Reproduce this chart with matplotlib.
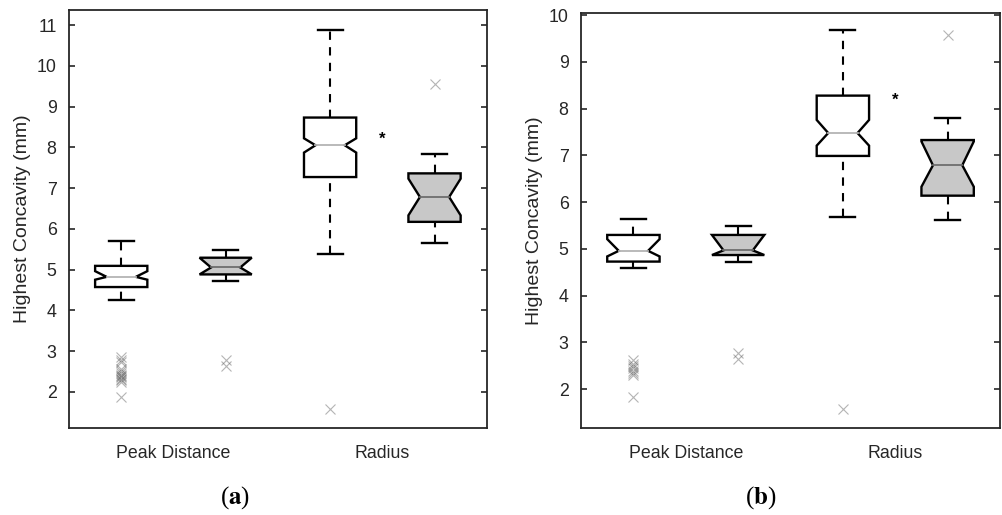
import matplotlib
matplotlib.use('Agg')
import matplotlib.pyplot as plt

plt.rcParams['font.family'] = ['Liberation Sans', 'DejaVu Sans']
plt.rcParams['mathtext.fontset'] = 'stix'

positions = [1, 2, 3, 4]
group_ticks = [1.5, 3.5]
group_labels = ['Peak Distance', 'Radius']
box_faces = ['white', '#c8c8c8', 'white', '#c8c8c8']
median_colors = ['#b4b4b4', '#6e6e6e', '#b4b4b4', '#6e6e6e']

# panel (a)
a_whislo = [4.24, 4.72, 5.39, 5.64]
a_q1 = [4.57, 4.88, 7.27, 6.17]
a_cilo = [4.75, 4.85, 7.87, 6.33]
a_med = [4.82, 5.05, 8.05, 6.78]
a_cihi = [4.96, 5.32, 8.22, 7.23]
a_q3 = [5.09, 5.29, 8.73, 7.36]
a_whishi = [5.70, 5.49, 10.89, 7.83]
a_fliers = [
    [2.85, 2.78, 2.72, 2.55, 2.50, 2.46, 2.42, 2.38, 2.35, 2.32, 2.28, 2.24, 1.87],
    [2.77, 2.63],
    [1.57],
    [9.55],
]
a_star = 8.2

# panel (b)
b_whislo = [4.59, 4.73, 5.68, 5.63]
b_q1 = [4.73, 4.87, 6.99, 6.14]
b_cilo = [4.84, 4.85, 7.21, 6.33]
b_med = [4.96, 4.97, 7.48, 6.79]
b_cihi = [5.21, 5.32, 7.76, 7.30]
b_q3 = [5.30, 5.30, 8.28, 7.33]
b_whishi = [5.65, 5.49, 9.69, 7.81]
b_fliers = [
    [2.63, 2.55, 2.50, 2.45, 2.40, 2.35, 2.31, 1.84],
    [2.78, 2.64],
    [1.57],
    [9.57],
]
b_star = 8.17


def draw_box(ax, x, lo, q1, cilo, med, cihi, q3, hi, fliers, face, mcol):
    w, nw, cw = 0.25, 0.14, 0.12
    cilo = max(cilo, q1)
    cihi = min(cihi, q3)
    xs = [x - w, x + w, x + w, x + nw, x + w, x + w, x - w, x - w, x - nw, x - w, x - w]
    ys = [q3, q3, cihi, med, cilo, q1, q1, cilo, med, cihi, q3]
    ax.fill(xs, ys, facecolor=face, edgecolor='black', lw=1.7, zorder=3,
            joinstyle='miter')
    ax.plot([x - nw, x + nw], [med, med], color=mcol, lw=1.3, zorder=4)
    dash = (0, (4, 3.5))
    ax.plot([x, x], [q3, hi], color='black', lw=1.5, ls=dash, zorder=2)
    ax.plot([x, x], [lo, q1], color='black', lw=1.5, ls=dash, zorder=2)
    ax.plot([x - cw, x + cw], [hi, hi], color='black', lw=1.7, zorder=2)
    ax.plot([x - cw, x + cw], [lo, lo], color='black', lw=1.7, zorder=2)
    ax.plot([x] * len(fliers), fliers, 'x', color='0.35', alpha=0.45,
            ms=7, mew=0.8, zorder=2)


def panel(ax, stats, star_y, ylim, yticks, caption_x, caption):
    whislo, q1, cilo, med, cihi, q3, whishi, fliers = stats
    for i, x in enumerate(positions):
        draw_box(ax, x, whislo[i], q1[i], cilo[i], med[i], cihi[i], q3[i],
                 whishi[i], fliers[i], box_faces[i], median_colors[i])
    ax.text(3.5, star_y, '*', ha='center', va='center', fontsize=12,
            fontweight='bold')
    ax.set_xlim(0.5, 4.5)
    ax.set_ylim(*ylim)
    ax.set_yticks(yticks)
    ax.set_xticks(group_ticks)
    ax.set_xticklabels(group_labels)
    ax.set_ylabel('Highest Concavity (mm)', fontsize=14, color='#262626',
                  labelpad=4)
    ax.tick_params(axis='y', direction='in', length=4, width=1.2, right=True,
                   labelsize=12.8, pad=9, colors='#262626')
    ax.tick_params(axis='x', length=0, labelsize=12.8, pad=12,
                   colors='#262626')
    for s in ax.spines.values():
        s.set_linewidth(1.3)
        s.set_color('#262626')
    fig.text(caption_x, 0.033, caption, ha='center', va='center',
             fontsize=18, family=['Liberation Serif', 'DejaVu Serif'])


fig = plt.figure(figsize=(10.03, 5.15), dpi=100)
ax_a = fig.add_axes([0.0688, 0.1689, 0.4165, 0.8117])
ax_b = fig.add_axes([0.5793, 0.1689, 0.4177, 0.8052])

panel(ax_a, (a_whislo, a_q1, a_cilo, a_med, a_cihi, a_q3, a_whishi, a_fliers),
      a_star, (1.11, 11.37), range(2, 12), 0.234, r'($\mathbf{a}$)')
panel(ax_b, (b_whislo, b_q1, b_cilo, b_med, b_cihi, b_q3, b_whishi, b_fliers),
      b_star, (1.17, 10.04), range(2, 11), 0.758, r'($\mathbf{b}$)')

fig.savefig('out.png', dpi=100)
